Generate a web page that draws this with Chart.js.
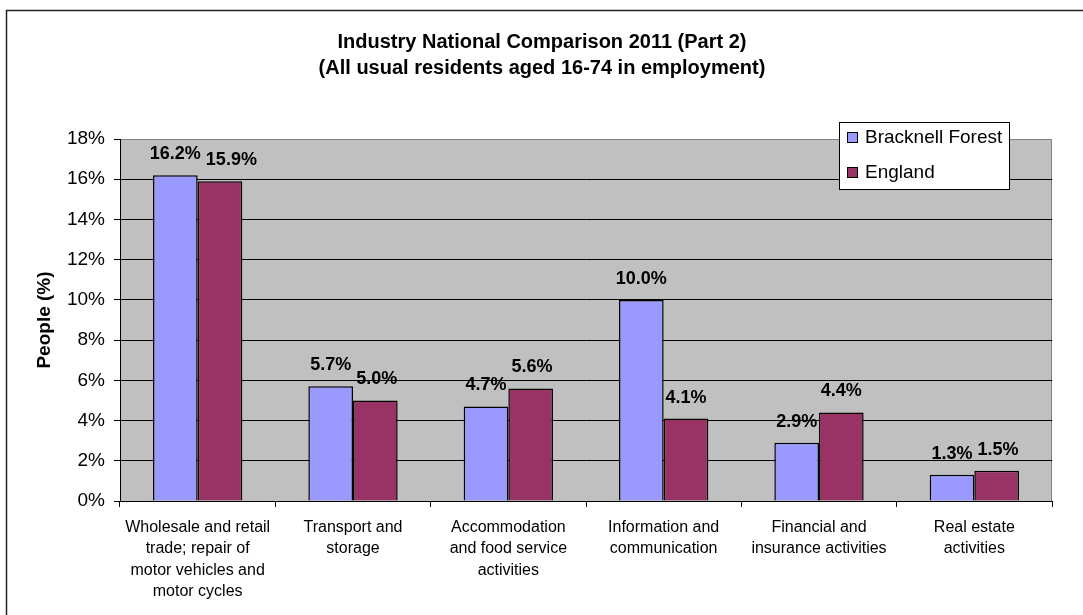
<!DOCTYPE html>
<html>
<head>
<meta charset="utf-8">
<script src="https://cdn.jsdelivr.net/npm/chart.js@4/dist/chart.umd.min.js"></script>
<style>
  body { margin: 0; background: #fff; }
  canvas { display: block; }
</style>
</head>
<body>
<canvas id="industryChart" width="1083" height="615"></canvas>
<script>
// values
const categories = [
  ["Wholesale and retail", "trade; repair of", "motor vehicles and", "motor cycles"],
  ["Transport and", "storage"],
  ["Accommodation", "and food service", "activities"],
  ["Information and", "communication"],
  ["Financial and", "insurance activities"],
  ["Real estate", "activities"]
];
const bracknellForest = [16.2, 5.7, 4.7, 10.0, 2.9, 1.3];
const england = [15.9, 5.0, 5.6, 4.1, 4.4, 1.5];
const yTicks = [0, 2, 4, 6, 8, 10, 12, 14, 16, 18];
const titleLines = ["Industry National Comparison 2011 (Part 2)", "(All usual residents aged 16-74 in employment)"];

const FONT = "Arial, 'Liberation Sans', sans-serif";

const excelLook = {
  id: "excelLook",
  beforeDraw(chart) {
    const { ctx, chartArea: a } = chart;
    ctx.save();
    ctx.fillStyle = "#C0C0C0";
    ctx.fillRect(a.left, a.top, a.right - a.left, a.bottom - a.top);
    ctx.strokeStyle = "#808080";
    ctx.lineWidth = 1;
    ctx.strokeRect(a.left + 0.5, a.top + 0.5, a.right - a.left - 1, a.bottom - a.top);
    // outer frame
    ctx.strokeStyle = "#222";
    ctx.lineWidth = 1.5;
    ctx.strokeRect(6.5, 10.5, 1200, 800);
    ctx.restore();
  },
  afterDraw(chart) {
    const { ctx } = chart;
    ctx.save();
    ctx.fillStyle = "#000";
    ctx.textAlign = "center";
    ctx.textBaseline = "middle";
    ctx.font = "bold 20px " + FONT;
    ctx.fillText(titleLines[0], 542, 42);
    ctx.fillText(titleLines[1], 542, 68);

    // axis title
    ctx.font = "bold 19px " + FONT;
    ctx.translate(45, 320);
    ctx.rotate(-Math.PI / 2);
    ctx.fillText("People (%)", 0, 0);
    ctx.setTransform(1, 0, 0, 1, 0, 0);

    // value labels (Excel nudges the second label right when the pair would touch)
    ctx.font = "bold 18px " + FONT;
    const metaA = chart.getDatasetMeta(0).data;
    chart.data.datasets.forEach((ds, i) => {
      chart.getDatasetMeta(i).data.forEach((bar, j) => {
        const txt = ds.data[j].toFixed(1) + "%";
        let x = bar.x;
        if (i === 1) {
          const prevTxt = chart.data.datasets[0].data[j].toFixed(1) + "%";
          const prevRight = metaA[j].x + ctx.measureText(prevTxt).width / 2;
          const left = x - ctx.measureText(txt).width / 2;
          if (left < prevRight + 5 && Math.abs(metaA[j].y - bar.y) < 22) x += prevRight + 5 - left;
        }
        ctx.fillText(txt, x, bar.y - 21);
      });
    });

    // legend
    const lx = 839, ly = 122, lw = 170, lh = 67;
    ctx.fillStyle = "#fff";
    ctx.fillRect(lx, ly, lw, lh);
    ctx.strokeStyle = "#000";
    ctx.lineWidth = 1;
    ctx.strokeRect(lx + 0.5, ly + 0.5, lw, lh);
    ctx.textAlign = "left";
    ctx.font = "19px " + FONT;
    chart.data.datasets.forEach((ds, i) => {
      const cy = ly + 16 + i * 35;
      ctx.fillStyle = ds.backgroundColor;
      ctx.fillRect(lx + 8.5, cy - 5.5, 10, 10);
      ctx.strokeStyle = "#000";
      ctx.strokeRect(lx + 8.5, cy - 5.5, 10, 10);
      ctx.fillStyle = "#000";
      ctx.fillText(ds.label, lx + 26, cy);
    });
    ctx.restore();
  }
};

new Chart(document.getElementById("industryChart").getContext("2d"), {
  type: "bar",
  data: {
    labels: categories,
    datasets: [
      {
        label: "Bracknell Forest",
        data: bracknellForest,
        backgroundColor: "#9999FF",
        borderColor: "#000",
        borderWidth: 1.5,
        categoryPercentage: 0.575,
        barPercentage: 1
      },
      {
        label: "England",
        data: england,
        backgroundColor: "#993366",
        borderColor: "#000",
        borderWidth: 1.5,
        categoryPercentage: 0.575,
        barPercentage: 1
      }
    ]
  },
  options: {
    responsive: false,
    animation: false,
    layout: { padding: { left: 0, top: 139, right: 31, bottom: 0 } },
    plugins: {
      legend: { display: false },
      title: { display: false },
      tooltip: { enabled: false }
    },
    scales: {
      x: {
        grid: { drawOnChartArea: false, drawTicks: true, tickLength: 6, color: "#000", offset: true },
        border: { color: "#000" },
        ticks: {
          color: "#000",
          maxRotation: 0,
          autoSkip: false,
          padding: 10,
          font: { family: FONT, size: 16, lineHeight: 1.33 }
        },
        afterFit(scale) { scale.height = 114; }
      },
      y: {
        min: 0,
        max: 18,
        afterBuildTicks(scale) { scale.ticks = yTicks.map(v => ({ value: v })); },
        grid: {
          color: c => (c.tick && c.tick.value === 18 ? "rgba(0,0,0,0)" : "#000"),
          tickColor: "#000",
          tickLength: 6
        },
        border: { color: "#000" },
        ticks: {
          color: "#000",
          padding: 9,
          callback: v => v + "%",
          font: { family: FONT, size: 19 }
        },
        afterFit(scale) { scale.width = 120; }
      }
    }
  },
  plugins: [excelLook]
});
</script>
</body>
</html>
